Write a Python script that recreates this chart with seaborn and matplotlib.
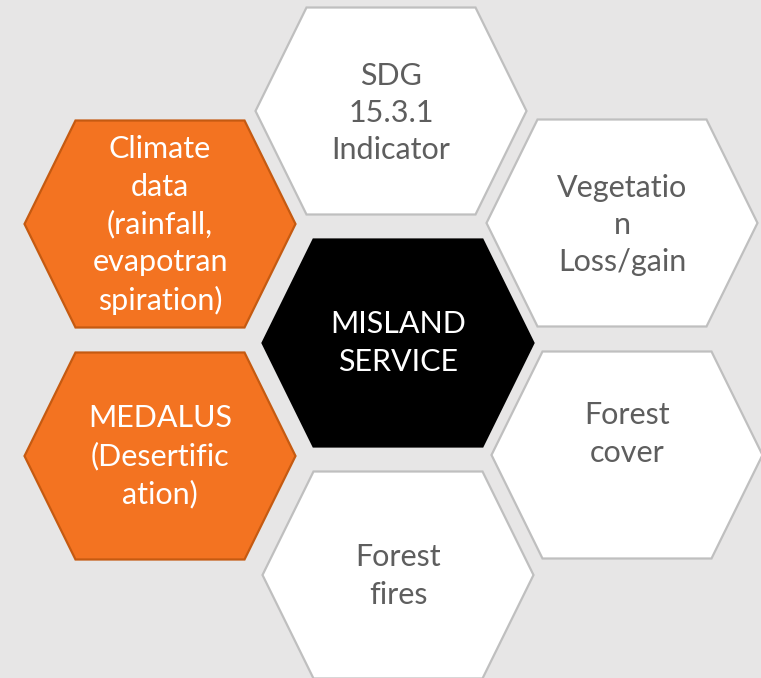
import matplotlib.pyplot as plt
import seaborn as sns
from matplotlib.patches import Polygon

# Textos de cada hexagono
etiquetas = [
    "SDG\n15.3.1\nIndicator",
    "Climate\ndata\n(rainfall,\nevapotran\nspiration)",
    "MISLAND\nSERVICE",
    "Vegetatio\nn\nLoss/gain",
    "MEDALUS\n(Desertific\nation)",
    "Forest\nfires",
    "Forest\ncover",
]
tipos = ["blanco", "naranja", "negro", "blanco", "naranja", "blanco", "blanco"]

# Centros de los hexagonos (en pixeles)
centro_x = [391, 160, 398, 622, 160, 398, 627]
centro_y = [111, 224, 343, 223, 456, 575, 455]
desfase_texto = [2, 1, 0, 2, 0, 1, -21]

FONDO = "#e7e6e6"
estilos = {
    "blanco": dict(fc="#ffffff", ec="#bfbfbf", txt="#5e5e5e"),
    "naranja": dict(fc="#f37321", ec="#c55a11", txt="#ffffff"),
    "negro": dict(fc="#000000", ec="#000000", txt="#ffffff"),
}

sns.set_theme(style="white")
plt.rcParams["font.family"] = ["Lato", "DejaVu Sans"]

fig, ax = plt.subplots(figsize=(7.61, 6.78), dpi=100)
fig.patch.set_facecolor(FONDO)
ax.set_facecolor(FONDO)
ax.set_position([0, 0, 1, 1])

ancho, alto, entrada = 135.5, 103.5, 51
for texto, tipo, cx, cy, dy in zip(etiquetas, tipos, centro_x, centro_y, desfase_texto):
    est = estilos[tipo]
    vertices = [
        (cx - ancho, cy), (cx - ancho + entrada, cy - alto),
        (cx + ancho - entrada, cy - alto), (cx + ancho, cy),
        (cx + ancho - entrada, cy + alto), (cx - ancho + entrada, cy + alto),
    ]
    ax.add_patch(Polygon(vertices, closed=True, facecolor=est["fc"],
                         edgecolor=est["ec"], linewidth=1.6))
    ax.text(cx, cy + dy, texto, ha="center", va="center", fontsize=22,
            color=est["txt"], linespacing=1.4)

ax.set_xlim(0, 761)
ax.set_ylim(678, 0)
ax.axis("off")

fig.savefig("out.png", dpi=100, facecolor=fig.get_facecolor())
